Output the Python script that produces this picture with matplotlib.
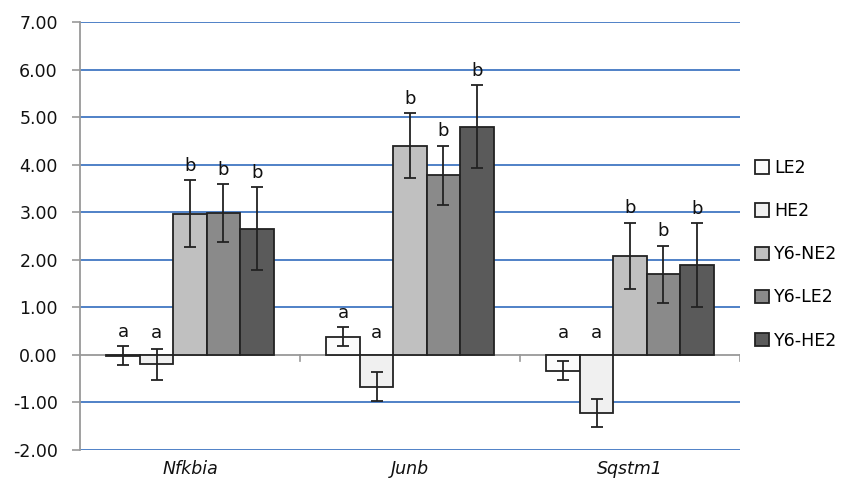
import matplotlib
matplotlib.use("Agg")
import matplotlib.pyplot as plt
import matplotlib.transforms as mtransforms
import numpy as np

genes = ["Nfkbia", "Junb", "Sqstm1"]
series = ["LE2", "HE2", "Y6-NE2", "Y6-LE2", "Y6-HE2"]
values = {
    "LE2":    [-0.02, 0.38, -0.33],
    "HE2":    [-0.20, -0.67, -1.22],
    "Y6-NE2": [2.97, 4.40, 2.08],
    "Y6-LE2": [2.98, 3.78, 1.70],
    "Y6-HE2": [2.65, 4.80, 1.89],
}
errors = {
    "LE2":    [0.20, 0.20, 0.20],
    "HE2":    [0.32, 0.31, 0.30],
    "Y6-NE2": [0.70, 0.68, 0.70],
    "Y6-LE2": [0.61, 0.62, 0.60],
    "Y6-HE2": [0.87, 0.88, 0.88],
}
letters = {
    "LE2":    ["a", "a", "a"],
    "HE2":    ["a", "a", "a"],
    "Y6-NE2": ["b", "b", "b"],
    "Y6-LE2": ["b", "b", "b"],
    "Y6-HE2": ["b", "b", "b"],
}
colors = ["#fbfbfb", "#f0f0f0", "#c0c0c0", "#8a8a8a", "#5a5a5a"]
yticks = [-2, -1, 0, 1, 2, 3, 4, 5, 6, 7]

fig = plt.figure(figsize=(8.61, 4.86), dpi=100)
ax = fig.add_axes([80 / 861, 36 / 486, 660 / 861, 428 / 486])

n = len(series)
group_w = 0.76
bw = group_w / n
x = np.arange(len(genes))

ax.set_ylim(-2, 7)
ax.set_xlim(-0.5, len(genes) - 0.5)

for yt in yticks:
    if yt != 0:
        ax.axhline(yt, color="#4f81c7", lw=1.4, zorder=0)

for i, s in enumerate(series):
    pos = x - group_w / 2 + bw * (i + 0.5)
    v = np.array(values[s])
    e = np.array(errors[s])
    ax.bar(pos, v, width=bw, color=colors[i], edgecolor="#222222", linewidth=1.3,
           label=s, zorder=2)
    ax.errorbar(pos, v, yerr=e, fmt="none", ecolor="#222222", elinewidth=1.3,
                capsize=4.5, capthick=1.3, zorder=3)
    for p, val, err, lt in zip(pos, v, e, letters[s]):
        ytxt = max(val + err, 0.15) + 0.3
        ax.text(p, ytxt, lt, ha="center", va="center", fontsize=13, color="#111111", zorder=4)

ax.axhline(0, color="#999999", lw=1.3, zorder=1)

for sp in ["top", "right", "bottom"]:
    ax.spines[sp].set_visible(False)
ax.spines["left"].set_color("#999999")
ax.spines["left"].set_linewidth(1.3)

ax.set_yticks(yticks)
ax.set_yticklabels([f"{t:.2f}" for t in yticks], fontsize=12.5, color="#111111")
ax.tick_params(axis="y", length=6, width=1.2, color="#999999", pad=10)

ax.set_xticks([])
for b in np.arange(len(genes)) + 0.5:
    ax.plot([b, b], [0, -0.12], color="#999999", lw=1.2, zorder=1)

trans = mtransforms.blended_transform_factory(ax.transData, ax.transAxes)
for xi, g in zip(x, genes):
    ax.text(xi, -0.045, g, transform=trans, ha="center", va="center",
            fontsize=12.5, style="italic", color="#111111")

leg = fig.legend(loc="upper left", bbox_to_anchor=(748 / 861, 1 - 152 / 486),
                 frameon=False, fontsize=12.5, labelspacing=1.45,
                 handlelength=0.8, handleheight=0.8, handletextpad=0.3,
                 borderaxespad=0)

fig.savefig("out.png", dpi=100)
